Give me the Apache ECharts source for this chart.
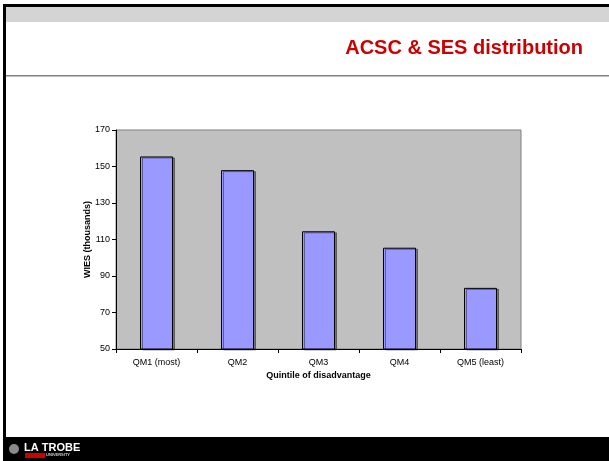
<!DOCTYPE html>
<html>
<head>
<meta charset="utf-8">
<script src="https://cdn.jsdelivr.net/npm/echarts@6/dist/echarts.min.js"></script>
<style>
html,body{margin:0;padding:0;background:#fff;}
#c{width:609px;height:461px;}
</style>
</head>
<body>
<div id="c"></div>
<script>
const categories = ['QM1 (most)', 'QM2', 'QM3', 'QM4', 'QM5 (least)'];
const wiesValues = [155.5, 148, 114.5, 105.5, 83.5];
const yTicks = [50, 70, 90, 110, 130, 150, 170];

const chart = echarts.init(document.getElementById('c'), null, {renderer: 'canvas'});
const font = 'Liberation Sans, Arial, sans-serif';

chart.setOption({
  animation: false,
  backgroundColor: '#ffffff',
  grid: {
    left: 116, top: 130, width: 405, height: 219,
    show: true, backgroundColor: '#C0C0C0', borderColor: '#808080', borderWidth: 1
  },
  xAxis: {
    type: 'category',
    data: categories,
    name: 'Quintile of disadvantage',
    nameLocation: 'middle',
    nameGap: 22,
    nameMoveOverlap: false,
    nameTextStyle: {fontFamily: font, fontSize: 9, fontWeight: 'bold', color: '#000'},
    axisLine: {lineStyle: {color: '#000', width: 1}},
    axisTick: {show: true, alignWithLabel: false, length: 4, lineStyle: {color: '#000'}},
    axisLabel: {fontFamily: font, fontSize: 9, color: '#000', margin: 9}
  },
  yAxis: {
    type: 'value',
    min: yTicks[0], max: yTicks[yTicks.length - 1], interval: yTicks[1] - yTicks[0],
    name: 'WIES (thousands)',
    nameLocation: 'middle',
    nameGap: 24,
    nameMoveOverlap: false,
    nameRotate: 90,
    nameTextStyle: {fontFamily: font, fontSize: 9, fontWeight: 'bold', color: '#000'},
    axisLine: {show: true, lineStyle: {color: '#000', width: 1}},
    axisTick: {show: true, length: 4, lineStyle: {color: '#000'}},
    axisLabel: {fontFamily: font, fontSize: 9, color: '#000', margin: 6},
    splitLine: {show: false}
  },
  series: [{
    type: 'bar',
    data: wiesValues,
    barWidth: 33,
    itemStyle: {
      color: '#9999FF', borderColor: '#000', borderWidth: 1,
      shadowColor: 'rgba(0,0,0,0.4)', shadowOffsetX: 2, shadowOffsetY: 1, shadowBlur: 0
    }
  }],
  graphic: [
    {type: 'rect', shape: {x: 3, y: 4, width: 606, height: 3}, style: {fill: '#000'}, z: 100},
    {type: 'rect', shape: {x: 6, y: 7, width: 603, height: 15}, style: {fill: '#D4D4D4'}, z: 100},
    {type: 'rect', shape: {x: 3, y: 4, width: 3, height: 440}, style: {fill: '#000'}, z: 100},
    {type: 'rect', shape: {x: 6, y: 75, width: 603, height: 1.5}, style: {fill: '#808080'}, z: 100},
    {type: 'text', right: 26, top: 38, style: {text: 'ACSC & SES distribution', fill: '#CC0000', font: 'bold 20px ' + font}, z: 100},
    {type: 'rect', shape: {x: 3, y: 437, width: 606, height: 24}, style: {fill: '#000'}, z: 100},
    {type: 'circle', shape: {cx: 14, cy: 449, r: 5}, style: {fill: '#8a8a8a'}, z: 101},
    {type: 'rect', shape: {x: 25, y: 453, width: 20, height: 5}, style: {fill: '#CC0000'}, z: 101},
    {type: 'text', left: 24, top: 442, style: {text: 'LA TROBE', fill: '#ffffff', font: 'bold 11px ' + font}, z: 102},
    {type: 'text', left: 46, top: 453, style: {text: 'UNIVERSITY', fill: '#cccccc', font: 'bold 4px ' + font}, z: 102}
  ]
});
</script>
</body>
</html>
